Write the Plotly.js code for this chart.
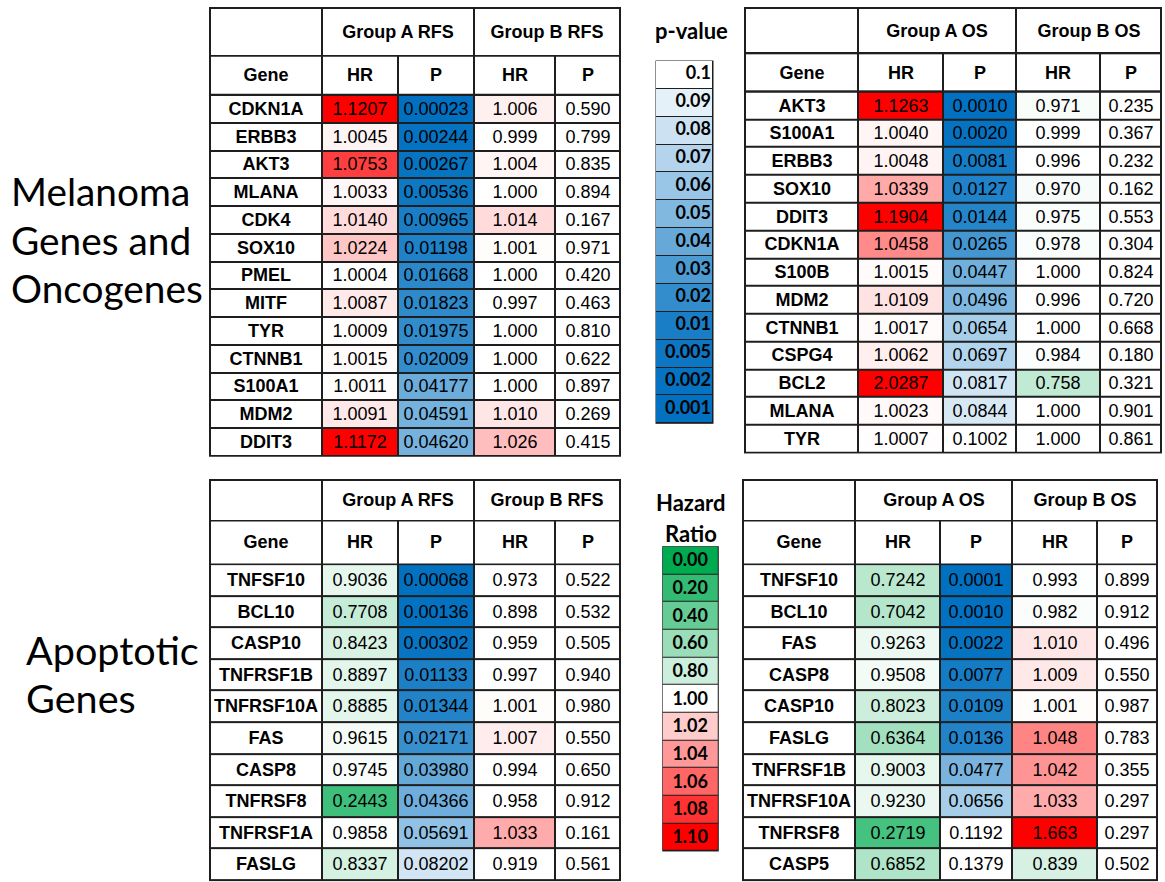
<!DOCTYPE html>
<html><head><meta charset="utf-8">
<script src="https://cdn.plot.ly/plotly-3.0.1.min.js"></script>
<style>html,body{margin:0;padding:0;background:#fff;}#chart{width:1165px;height:882px;}</style>
</head><body><div id="chart"></div>
<script>
// ---------------- DATA ----------------
// Melanoma genes – RFS
const genesMelRFS = ['CDKN1A','ERBB3','AKT3','MLANA','CDK4','SOX10','PMEL','MITF','TYR','CTNNB1','S100A1','MDM2','DDIT3'];
const hrA_MelRFS = [1.1207,1.0045,1.0753,1.0033,1.0140,1.0224,1.0004,1.0087,1.0009,1.0015,1.0011,1.0091,1.1172];
const pA_MelRFS  = [0.00023,0.00244,0.00267,0.00536,0.00965,0.01198,0.01668,0.01823,0.01975,0.02009,0.04177,0.04591,0.04620];
const hrB_MelRFS = [1.006,0.999,1.004,1.000,1.014,1.001,1.000,0.997,1.000,1.000,1.000,1.010,1.026];
const pB_MelRFS  = [0.590,0.799,0.835,0.894,0.167,0.971,0.420,0.463,0.810,0.622,0.897,0.269,0.415];
// Melanoma genes – OS
const genesMelOS = ['AKT3','S100A1','ERBB3','SOX10','DDIT3','CDKN1A','S100B','MDM2','CTNNB1','CSPG4','BCL2','MLANA','TYR'];
const hrA_MelOS = [1.1263,1.0040,1.0048,1.0339,1.1904,1.0458,1.0015,1.0109,1.0017,1.0062,2.0287,1.0023,1.0007];
const pA_MelOS  = [0.0010,0.0020,0.0081,0.0127,0.0144,0.0265,0.0447,0.0496,0.0654,0.0697,0.0817,0.0844,0.1002];
const hrB_MelOS = [0.971,0.999,0.996,0.970,0.975,0.978,1.000,0.996,1.000,0.984,0.758,1.000,1.000];
const pB_MelOS  = [0.235,0.367,0.232,0.162,0.553,0.304,0.824,0.720,0.668,0.180,0.321,0.901,0.861];
// Apoptotic genes – RFS
const genesApoRFS = ['TNFSF10','BCL10','CASP10','TNFRSF1B','TNFRSF10A','FAS','CASP8','TNFRSF8','TNFRSF1A','FASLG'];
const hrA_ApoRFS = [0.9036,0.7708,0.8423,0.8897,0.8885,0.9615,0.9745,0.2443,0.9858,0.8337];
const pA_ApoRFS  = [0.00068,0.00136,0.00302,0.01133,0.01344,0.02171,0.03980,0.04366,0.05691,0.08202];
const hrB_ApoRFS = [0.973,0.898,0.959,0.997,1.001,1.007,0.994,0.958,1.033,0.919];
const pB_ApoRFS  = [0.522,0.532,0.505,0.940,0.980,0.550,0.650,0.912,0.161,0.561];
// Apoptotic genes – OS
const genesApoOS = ['TNFSF10','BCL10','FAS','CASP8','CASP10','FASLG','TNFRSF1B','TNFRSF10A','TNFRSF8','CASP5'];
const hrA_ApoOS = [0.7242,0.7042,0.9263,0.9508,0.8023,0.6364,0.9003,0.9230,0.2719,0.6852];
const pA_ApoOS  = [0.0001,0.0010,0.0022,0.0077,0.0109,0.0136,0.0477,0.0656,0.1192,0.1379];
const hrB_ApoOS = [0.993,0.982,1.010,1.009,1.001,1.048,1.042,1.033,1.663,0.839];
const pB_ApoOS  = [0.899,0.912,0.496,0.550,0.987,0.783,0.355,0.297,0.297,0.502];
// Legends
const pLegendValues = [0.1,0.09,0.08,0.07,0.06,0.05,0.04,0.03,0.02,0.01,0.005,0.002,0.001];
const pLegendLabels = ['0.1','0.09','0.08','0.07','0.06','0.05','0.04','0.03','0.02','0.01','0.005','0.002','0.001'];
const hrLegendValues = [0.00,0.20,0.40,0.60,0.80,1.00,1.02,1.04,1.06,1.08,1.10];
const hrLegendLabels = ['0.00','0.20','0.40','0.60','0.80','1.00','1.02','1.04','1.06','1.08','1.10'];
const subHeaders = ['Gene','HR','P','HR','P'];

// ---------------- STYLE ----------------
const W = 1165, H = 882;
const HR_CS = [[0,'rgb(0,170,80)'],[1/1.1,'rgb(255,255,255)'],[1,'rgb(255,0,0)']];
const HR_RED_ONLY = [[0,'rgb(255,255,255)'],[1/1.1,'rgb(255,255,255)'],[1,'rgb(255,0,0)']];
const P_CS = [[0,'rgb(0,112,192)'],[1,'rgb(255,255,255)']];
const WHITE_CS = [[0,'#ffffff'],[1,'#ffffff']];
const TXT = 'Liberation Sans, Arial, sans-serif';
const LEG = 'Lato, Calibri, sans-serif';

const traces = [];
const layout = {
  width: W, height: H, margin: {l:0,r:0,t:0,b:0},
  paper_bgcolor: '#ffffff', plot_bgcolor: '#1e1e1e',
  showlegend: false, annotations: [], hovermode: false
};
let axN = 0;
function addAxes(left, top, w, h, pad) {
  axN += 1;
  const k = axN === 1 ? '' : String(axN);
  const base = {showgrid:false, zeroline:false, showticklabels:false, ticks:'', showline:false, fixedrange:true};
  layout['xaxis'+k] = Object.assign({}, base, {domain:[(left-pad)/W, (left+w+pad)/W], range:[-pad, w+pad], anchor:'y'+k});
  layout['yaxis'+k] = Object.assign({}, base, {domain:[1-(top+h+pad)/H, 1-(top-pad)/H], range:[h+pad, -pad], anchor:'x'+k});
  return {x:'x'+k, y:'y'+k};
}
function hm(ax, xe, ye, z, text, cs, zmin, zmax, bold, size, gap, family) {
  return {type:'heatmap', xaxis:ax.x, yaxis:ax.y, x:xe, y:ye, z:z, text:text,
    texttemplate: bold ? '<b>%{text}</b>' : '%{text}',
    textfont:{family: family || TXT, size: size, color:'#000'},
    colorscale:cs, zmin:zmin, zmax:zmax, showscale:false, xgap:gap, ygap:gap, hoverinfo:'skip'};
}
function buildTable(t) {
  const nRows = t.genes.length;
  const totalH = t.h1 + t.h2 + nRows*t.rh;
  const ax = addAxes(t.left, t.top, t.cols[5], totalH, 1);
  const e = t.cols;
  // header row 1 (merged group headers)
  traces.push(hm(ax, [e[0],e[1],e[3],e[5]], [0,t.h1], [[0,0,0]], [['', t.groupA, t.groupB]], WHITE_CS, 0, 1, true, 18, 2));
  // header row 2
  traces.push(hm(ax, e, [t.h1, t.h1+t.h2], [[0,0,0,0,0]], [subHeaders], WHITE_CS, 0, 1, true, 18, 2));
  const ye = [];
  for (let i=0;i<=nRows;i++) ye.push(t.h1 + t.h2 + i*t.rh);
  const col = (vals) => vals.map(v => [v]);
  traces.push(hm(ax, [e[0],e[1]], ye, col(t.genes.map(()=>0)), col(t.genes), WHITE_CS, 0, 1, true, 18, 2));
  traces.push(hm(ax, [e[1],e[2]], ye, col(t.hrA), col(t.hrA.map(v=>v.toFixed(4))), HR_CS, 0, 1.1, false, 18, 2));
  traces.push(hm(ax, [e[2],e[3]], ye, col(t.pA), col(t.pA.map(v=>v.toFixed(t.pDec))), P_CS, 0, 0.1, false, 18, 2));
  traces.push(hm(ax, [e[3],e[4]], ye, col(t.hrB), col(t.hrB.map(v=>v.toFixed(3))), t.hrBcs || HR_CS, 0, 1.1, false, 18, 2));
  traces.push(hm(ax, [e[4],e[5]], ye, col(t.pB), col(t.pB.map(v=>v.toFixed(3))), P_CS, 0, 0.1, false, 18, 2));
}

buildTable({left:210, top:8, cols:[0,112,188,264,345,410], h1:47.7, h2:39.3, rh:27.75,
  groupA:'Group A RFS', groupB:'Group B RFS', genes:genesMelRFS, hrA:hrA_MelRFS, pA:pA_MelRFS, hrB:hrB_MelRFS, pB:pB_MelRFS, pDec:5});
buildTable({left:745, top:8, cols:[0,113,198,271,355,416], h1:45.3, h2:38.4, rh:27.75,
  groupA:'Group A OS', groupB:'Group B OS', genes:genesMelOS, hrA:hrA_MelOS, pA:pA_MelOS, hrB:hrB_MelOS, pB:pB_MelOS, pDec:4});
buildTable({left:210, top:480, cols:[0,112,188,264,345,410], h1:40.5, h2:43.6, rh:31.6,
  groupA:'Group A RFS', groupB:'Group B RFS', genes:genesApoRFS, hrA:hrA_ApoRFS, pA:pA_ApoRFS, hrB:hrB_ApoRFS, pB:pB_ApoRFS, pDec:5, hrBcs:HR_RED_ONLY});
buildTable({left:743, top:480, cols:[0,112,197,269,354,414], h1:40.5, h2:43.6, rh:31.6,
  groupA:'Group A OS', groupB:'Group B OS', genes:genesApoOS, hrA:hrA_ApoOS, pA:pA_ApoOS, hrB:hrB_ApoOS, pB:pB_ApoOS, pDec:4});

// p-value legend
(function(){
  const w = 57, rh = 27.87, n = pLegendValues.length;
  const ax = addAxes(656, 61, w, n*rh, 0.5);
  const ye = []; for (let i=0;i<=n;i++) ye.push(i*rh);
  traces.push(hm(ax, [0,w], ye, pLegendValues.map(v=>[v]), pLegendLabels.map(()=>['']), P_CS, 0, 0.1, false, 18, 1));
  traces.push({type:'scatter', mode:'text', xaxis:ax.x, yaxis:ax.y,
    x: pLegendLabels.map(()=>w-2), y: pLegendLabels.map((_,i)=>(i+0.5)*rh),
    text: pLegendLabels.map(s=>'<b>'+s+'</b>'), textposition:'middle left',
    textfont:{family:LEG, size:18, color:'#000'}, hoverinfo:'skip', cliponaxis:false});
})();
// Hazard ratio legend
(function(){
  const w = 55.6, rh = 27.66, n = hrLegendValues.length;
  const ax = addAxes(662.7, 546.7, w, n*rh, 0.5);
  const ye = []; for (let i=0;i<=n;i++) ye.push(i*rh);
  traces.push(hm(ax, [0,w], ye, hrLegendValues.map(v=>[v]), hrLegendLabels.map(s=>[s]), HR_CS, 0, 1.1, true, 18, 1, LEG));
})();

function ann(text, xpx, ypx, size, bold, anchor) {
  layout.annotations.push({text: bold ? '<b>'+text+'</b>' : text, xref:'paper', yref:'paper',
    x: xpx/W, y: 1 - ypx/H, xanchor: anchor || 'center', yanchor:'middle', showarrow:false,
    font:{family:LEG, size:size, color:'#000'}});
}
ann('p-value', 691.7, 30.5, 22, true);
ann('Hazard', 690.5, 502, 22, true);
ann('Ratio', 690.5, 533, 22, true);
ann('Melanoma', 9, 191, 38.8, false, 'left');
ann('Genes and', 9, 239.5, 38.8, false, 'left');
ann('Oncogenes', 9, 288, 38.8, false, 'left');
ann('Apoptotic', 24, 649, 39.6, false, 'left');
ann('Genes', 24, 697, 39.6, false, 'left');

Plotly.newPlot('chart', traces, layout, {staticPlot:true, displayModeBar:false});
</script></body></html>
